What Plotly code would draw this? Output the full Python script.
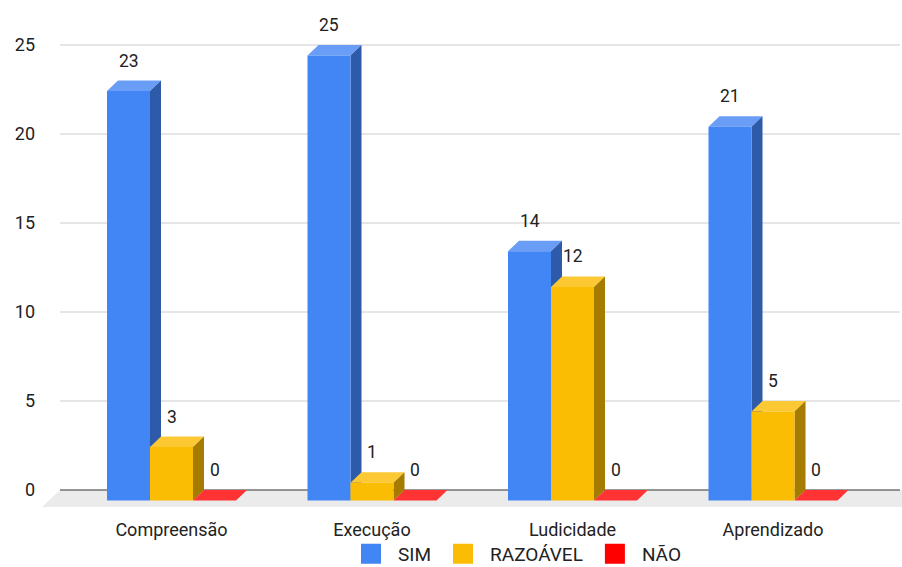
import plotly.graph_objects as go

# ---------------- data ----------------
categories = ["Compreensão", "Execução", "Ludicidade", "Aprendizado"]
series_names = ["SIM", "RAZOÁVEL", "NÃO"]
sim = [23, 25, 14, 21]
razoavel = [3, 1, 12, 5]
nao = [0, 0, 0, 0]
y_ticks = [0, 5, 10, 15, 20, 25]

series_values = [sim, razoavel, nao]

# ---------------- style ----------------
front_colors = ["#4285F4", "#FBBC04", "#FF0000"]
top_colors = ["#6A9DF6", "#FCC934", "#FF3333"]
side_colors = ["#2D5BAA", "#A57B00", "#B30000"]
FONT = "Roboto"
TXT = "#222222"

W, H = 902, 567
ML, MR, MT, MB = 40, 0, 27, 55
plot_w = W - ML - MR
plot_h = H - MT - MB

PX_CAT = 200.5      # pixels per category
X0_PX = 171.5       # pixel of first category centre (front plane)
PX_Y = 17.8         # pixels per y unit
Y0_PX = 490         # pixel of y = 0 (back plane)

x_min = (ML - X0_PX) / PX_CAT
x_max = (W - MR - X0_PX) / PX_CAT
y_min = -(MT + plot_h - Y0_PX) / PX_Y
y_max = (Y0_PX - MT) / PX_Y

bar_w = 43 / PX_CAT
depth_x = 11 / PX_CAT
depth_y = 10.5 / PX_Y
floor_depth = 17 / PX_Y


def xpaper(px):
    return (px - ML) / plot_w


fig = go.Figure()
shapes = []

# floor
shapes.append(dict(
    type="path", xref="paper", yref="y", layer="below",
    path=f"M {xpaper(60)},0 L {xpaper(902)},0 L {xpaper(902)},{-floor_depth} "
         f"L {xpaper(42)},{-floor_depth} Z",
    fillcolor="#EBEBEB", line=dict(width=0)))

# gridlines
for t in y_ticks:
    shapes.append(dict(
        type="line", xref="paper", yref="y", layer="below",
        x0=xpaper(60), x1=xpaper(900), y0=t, y1=t,
        line=dict(color="#333333" if t == 0 else "#CCCCCC", width=1)))

xs = list(range(len(categories)))
annotations = []
for k, vals in enumerate(series_values):
    off = (k - 1.5) * bar_w
    fig.add_trace(go.Bar(
        x=xs, y=vals, base=-depth_y, width=bar_w, offset=off,
        marker=dict(color=front_colors[k], line=dict(width=0)),
        showlegend=False, hoverinfo="skip"))
    for i, v in enumerate(vals):
        xl = xs[i] + off
        xr = xl + bar_w
        # top face
        shapes.append(dict(
            type="path", xref="x", yref="y", layer="between",
            path=f"M {xl},{v - depth_y} L {xr},{v - depth_y} L {xr + depth_x},{v} "
                 f"L {xl + depth_x},{v} Z",
            fillcolor=top_colors[k], line=dict(width=0)))
        if v > 0:
            # side face
            shapes.append(dict(
                type="path", xref="x", yref="y", layer="between",
                path=f"M {xr},{v - depth_y} L {xr + depth_x},{v} L {xr + depth_x},0 "
                     f"L {xr},{-depth_y} Z",
                fillcolor=side_colors[k], line=dict(width=0)))
        annotations.append(dict(
            x=xl + bar_w / 2, y=v, xref="x", yref="y", text=str(v),
            showarrow=False, yshift=20,
            font=dict(family=FONT, size=17.5, color=TXT)))

# legend entries
for k, name in enumerate(series_names):
    fig.add_trace(go.Scatter(
        x=[None], y=[None], mode="markers", name=name,
        marker=dict(symbol="square", size=16, color=front_colors[k],
                    line=dict(color=front_colors[k], width=4))))

fig.update_layout(
    width=W, height=H,
    margin=dict(l=ML, r=MR, t=MT, b=MB, autoexpand=False),
    paper_bgcolor="white", plot_bgcolor="white",
    barmode="overlay",
    shapes=shapes, annotations=annotations,
    font=dict(family=FONT, size=18, color=TXT),
    xaxis=dict(range=[x_min, x_max], tickvals=xs, ticktext=categories,
               showgrid=False, zeroline=False, showline=False, ticks="",
               tickfont=dict(size=18, color=TXT), ticklabelstandoff=5,
               fixedrange=True),
    yaxis=dict(range=[y_min, y_max], tickvals=y_ticks,
               showgrid=False, zeroline=False, showline=False, ticks="",
               tickfont=dict(size=18, color=TXT), ticklabelstandoff=4,
               fixedrange=True),
    legend=dict(orientation="h", x=xpaper(344), xanchor="left",
                y=(MT + plot_h - 554) / plot_h, yanchor="middle",
                itemwidth=44, font=dict(size=19, color=TXT),
                bgcolor="rgba(0,0,0,0)"),
    showlegend=True,
)

fig.write_html("out.html")
